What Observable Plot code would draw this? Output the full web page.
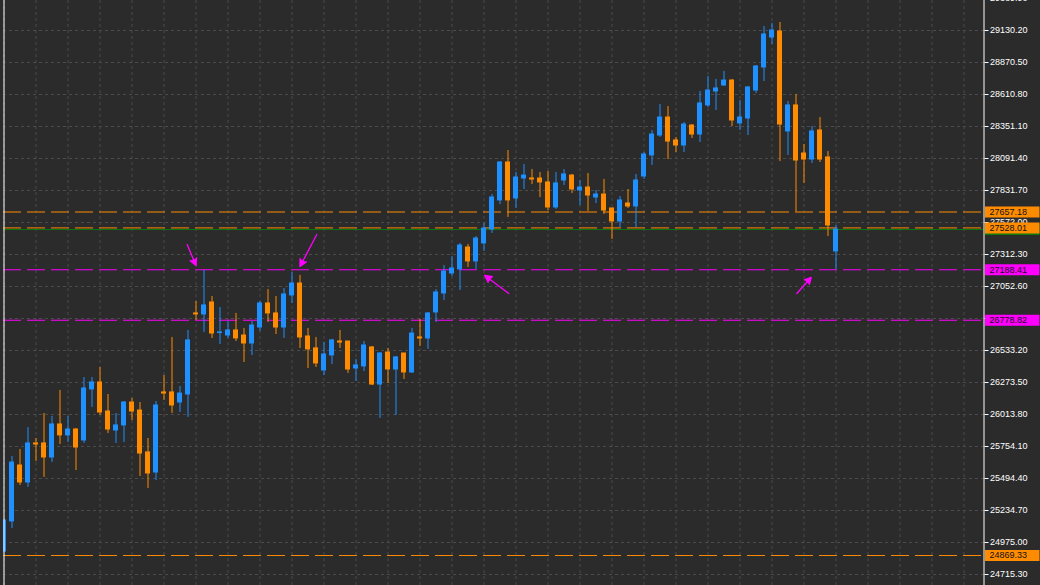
<!DOCTYPE html>
<html><head><meta charset="utf-8">
<script src="https://cdn.jsdelivr.net/npm/d3@7"></script>
<script src="https://cdn.jsdelivr.net/npm/@observablehq/plot@0.6"></script>
<style>
html,body{margin:0;padding:0;background:#2b2b2b;overflow:hidden;}
#chart svg{display:block;}
</style></head><body><div id="chart"></div>
<script>
// ---- data ----
const opens = [24902,25146,25600,25462,25779,25779,25665,25933,25844,25892,
 25803,26217,26274,26038,25884,25925,26111,26046,25706,25543,
 26193,26193,26111,26176,26834,26826,26923,26675,26655,26696,
 26655,26590,26720,26915,26834,26720,26980,27077,26647,26550,
 26371,26493,26606,26606,26387,26404,26558,26257,26517,26379,
 26509,26355,26639,26631,26842,26996,27158,27191,27369,27256,
 27402,27515,27751,28059,27767,27929,27929,27929,27897,27694,
 27913,27953,27832,27856,27775,27799,27686,27580,27726,27702,
 27945,28116,28278,28424,28238,28197,28359,28286,28522,28635,
 28684,28724,28376,28416,28643,28830,29073,29122,28311,28522,
 28132,28083,28319,28100,27337];
const highs = [25162,25673,25730,25908,25819,26022,25998,26209,25998,25900,
 26314,26314,26395,26176,26022,26119,26144,26111,25819,26119,
 26330,26639,26241,26696,26931,27183,26972,26882,26769,26834,
 26712,26769,26931,27028,26972,27036,27166,27142,26712,26639,
 26598,26623,26696,26606,26460,26606,26566,26517,26550,26485,
 26509,26712,26785,26842,27028,27223,27296,27402,27394,27458,
 27564,27799,28067,28156,27978,28043,28002,27978,27986,27978,
 28002,27962,27913,27970,27832,27921,27686,27783,27840,27962,
 28140,28319,28530,28513,28262,28384,28367,28635,28757,28733,
 28798,28733,28562,28676,28846,29163,29187,29195,28554,28611,
 28205,28351,28424,28148,27548];
const lows = [24894,25089,25438,25422,25633,25503,25624,25770,25787,25559,
 25779,26071,26006,25860,25779,25787,25965,25511,25414,25478,
 26128,26022,26030,25990,26777,26680,26631,26582,26631,26606,
 26436,26493,26688,26761,26663,26631,26915,26550,26387,26395,
 26330,26420,26550,26347,26282,26363,26249,25982,26266,26006,
 26298,26347,26566,26542,26761,26939,27134,27020,27207,27191,
 27337,27483,27718,27613,27686,27840,27880,27775,27669,27678,
 27872,27807,27710,27661,27726,27637,27434,27531,27686,27531,
 27921,28035,28262,28083,28140,28140,28254,28221,28505,28481,
 28676,28351,28319,28278,28619,28716,29017,28067,28116,27657,
 27889,28051,28059,27458,27188];
const closes = [25154,25624,25462,25779,25770,25665,25933,25844,25892,25746,
 26225,26274,26030,25892,25925,26111,26038,25697,25535,26087,
 26184,26087,26184,26615,26826,26899,26671,26680,26696,26631,
 26590,26736,26915,26834,26720,26988,27077,26639,26542,26428,
 26501,26615,26598,26379,26412,26574,26257,26509,26379,26477,
 26355,26671,26631,26834,27004,27174,27199,27385,27256,27442,
 27523,27775,28059,27751,27937,27953,27921,27897,27694,27889,
 27962,27840,27856,27791,27799,27669,27580,27751,27702,27913,
 28124,28286,28424,28229,28197,28367,28286,28538,28643,28660,
 28724,28400,28424,28668,28838,29098,29130,28367,28522,28075,
 28083,28311,28083,27548,27515];

const tickValues = [29389.90,29130.20,28870.50,28610.80,28351.10,28091.40,27831.70,27572.00,27312.30,27052.60,26792.90,26533.20,26273.50,26013.80,25754.10,25494.40,25234.70,24975.00,24715.30];
const gridCandles = [0,4,8,12,16,20,24,28,32,36,40,44,48,52,56,60,64,68,72,76,80,84,88,92,96,100,104,108,112,116,120];

const levelPrices = [27657.18, 27528.01, 27188.41, 26778.82, 24869.33];
const levelKinds  = ["orange", "orange", "magenta", "magenta", "orange"];
const bidPrice = 27515.2;

const arrowFromX = [22.9, 39.1, 63.1, 99.1];
const arrowFromY = [27393, 27475, 26996, 26996];
const arrowToX   = [24.0, 37.0, 60.1, 100.9];
const arrowToY   = [27223, 27215, 27142, 27126];

// ---- styles ----
const UP = "#1e90ff", DOWN = "#ff8c00", MAG = "#ff00ff", ORG = "#ff8c00", GREEN = "#0b7a0b";
const BG = "#2b2b2b", GRID = "#4b4b4b";

const candles = opens.map((o, i) => ({i, o, h: highs[i], l: lows[i], c: closes[i]}));
const levels = levelPrices.map((p, i) => ({p, col: levelKinds[i] === "orange" ? ORG : MAG}));
const arrows = arrowFromX.map((x, i) => ({x1: x, y1: arrowFromY[i], x2: arrowToX[i], y2: arrowToY[i]}));
const col = d => d.c >= d.o ? UP : DOWN;

const chart = Plot.plot({
  width: 1040, height: 585,
  marginLeft: 3, marginRight: 56.5, marginTop: 0, marginBottom: 0,
  style: {background: BG, color: "#fff", fontFamily: "'Liberation Sans', Arial, sans-serif", fontSize: "9px"},
  x: {domain: [-0.0625, 122.5], axis: null},
  y: {domain: [24626.03, 29373.67], axis: null},
  color: {type: "identity"},
  marks: [
    Plot.gridY(tickValues, {stroke: GRID, strokeOpacity: 1, strokeDasharray: "3,3"}),
    Plot.gridX(gridCandles, {stroke: GRID, strokeOpacity: 1, strokeDasharray: "3,3"}),
    Plot.ruleY([bidPrice], {stroke: GREEN, strokeWidth: 1}),
    Plot.ruleY(levels, {y: "p", stroke: "col", strokeDasharray: "18,6", strokeWidth: 1}),
    Plot.ruleX(candles, {x: "i", y1: "l", y2: "h", stroke: col, strokeWidth: 1, clip: true}),
    Plot.rect(candles, {x1: d => d.i - 0.3125, x2: d => d.i + 0.3125, y1: "o", y2: "c", fill: col, insetTop: -0.5, insetBottom: -0.5, clip: true}),
    Plot.arrow(arrows, {x1: "x1", y1: "y1", x2: "x2", y2: "y2", stroke: MAG, fill: MAG, strokeWidth: 1.3, headLength: 9, headAngle: 55}),
    Plot.ruleX([-0.0625], {stroke: "#fff", dx: 0.5}),
    Plot.ruleX([122.5], {stroke: "#fff"}),
    Plot.axisY(tickValues, {anchor: "right", tickSize: 4, tickPadding: 2, tickFormat: d => d.toFixed(2), stroke: "#fff", fill: "#fff", label: null, fontSize: 9}),
    Plot.ruleY([bidPrice], {stroke: GREEN, strokeWidth: 11, insetLeft: 982, insetRight: -56}),
    Plot.ruleY(levels, {y: "p", stroke: "col", strokeWidth: 11, insetLeft: 982, insetRight: -56}),
    Plot.text(levels, {y: "p", text: d => d.p.toFixed(2), frameAnchor: "right", dx: 5.5, textAnchor: "start", fill: "#111", fontSize: 9})
  ]
});
document.getElementById("chart").appendChild(chart);
</script>
</body></html>
